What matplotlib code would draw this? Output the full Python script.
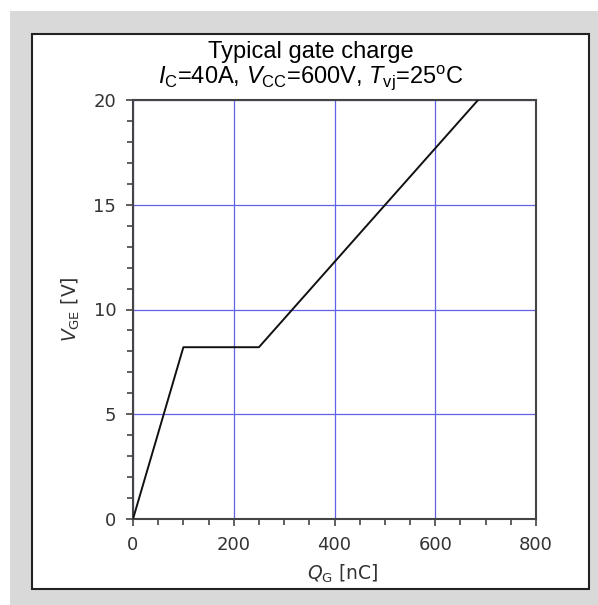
import matplotlib
matplotlib.use("Agg")
import matplotlib.pyplot as plt
from matplotlib.patches import Rectangle
from matplotlib.ticker import MultipleLocator

# Data
qg = [0, 100, 250, 685]          # Q_G [nC]
vge = [0, 8.2, 8.2, 20]          # V_GE [V]
x_ticks = [0, 200, 400, 600, 800]
y_ticks = [0, 5, 10, 15, 20]
title1 = "Typical gate charge"
title2 = r"$I_\mathrm{C}$=40A, $V_\mathrm{CC}$=600V, $T_\mathrm{vj}$=25$^\mathrm{o}$C"

plt.rcParams['mathtext.fontset'] = 'custom'
plt.rcParams['mathtext.rm'] = 'Liberation Sans'
plt.rcParams['mathtext.it'] = 'Liberation Sans:italic'
plt.rcParams['mathtext.bf'] = 'Liberation Sans:bold'

W, H = 598, 605
fig = plt.figure(figsize=(W / 100, H / 100), dpi=100)
fig.patch.set_facecolor('white')

# gray panel
fig.patches.append(Rectangle((10 / W, 0), (W - 10) / W, (H - 11) / H,
                             transform=fig.transFigure, facecolor='#d9d9d9',
                             edgecolor='none', zorder=-3))
# white inner box
fig.patches.append(Rectangle((32 / W, (H - 589) / H), 557 / W, 555 / H,
                             transform=fig.transFigure, facecolor='white',
                             edgecolor='#222222', linewidth=1.5, zorder=-2))

ax = fig.add_axes([133 / W, (H - 519) / H, 403 / W, 419 / H])
ax.set_facecolor('white')
ax.plot(qg, vge, color='#111111', linewidth=1.4, zorder=3, clip_on=True)

ax.set_xlim(0, 800)
ax.set_ylim(0, 20)
ax.set_xticks(x_ticks)
ax.set_yticks(y_ticks)
ax.xaxis.set_minor_locator(MultipleLocator(50))
ax.yaxis.set_minor_locator(MultipleLocator(1))
ax.grid(True, which='major', color='#6060e8', linewidth=0.9)
ax.set_axisbelow(True)

for s in ax.spines.values():
    s.set_color('#444444')
    s.set_linewidth(1.5)

ax.tick_params(which='major', direction='out', length=5, width=1.2,
               color='#444444', labelsize=13, labelcolor='#333333', pad=7)
ax.tick_params(which='minor', direction='out', length=4, width=1.2,
               color='#444444')

ax.set_xlabel(r"$Q_\mathrm{G}$ [nC]", fontsize=13.5, color='#333333',
              math_fontfamily='dejavusans', va='baseline')
ax.xaxis.set_label_coords(0.52, -0.146)
ax.set_ylabel(r"$V_\mathrm{GE}$ [V]", fontsize=13.5, color='#333333',
              math_fontfamily='dejavusans', va='center')
ax.yaxis.set_label_coords(-0.154, 0.5)

cx = 310.5 / W
fig.text(cx, 1 - 58 / H, title1, ha='center', va='baseline',
         fontsize=17, family='Liberation Sans', color='black')
fig.text(cx, 1 - 83 / H, title2, ha='center', va='baseline',
         fontsize=17, family='Liberation Sans', color='black')

fig.savefig('out.png', dpi=100)
